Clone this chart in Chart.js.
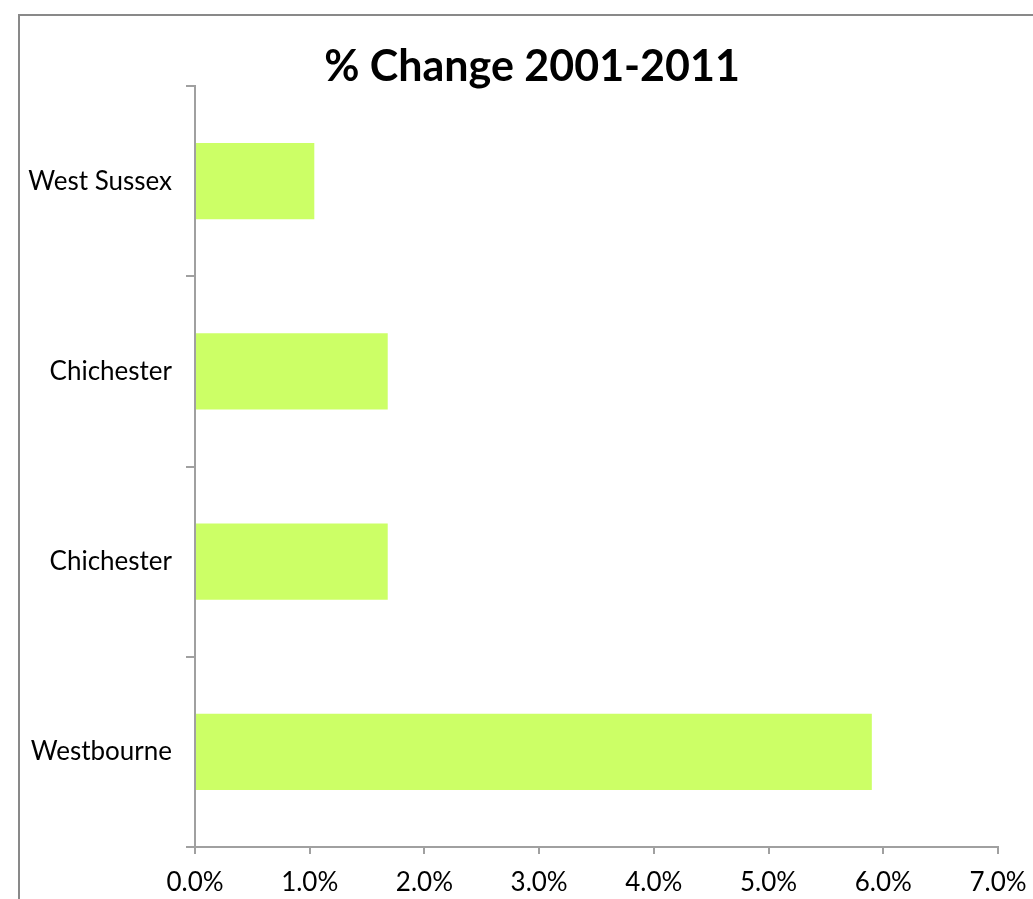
<!DOCTYPE html>
<html>
<head>
<meta charset="utf-8">
<script src="https://cdn.jsdelivr.net/npm/chart.js@4"></script>
<style>
  html, body { margin: 0; padding: 0; background: #fff; overflow: hidden; }
  #frame { position: absolute; left: 18px; top: 14px; width: 1100px; height: 1000px; border: 2px solid #898989; }
  #chart { position: absolute; left: 0; top: 0; }
</style>
</head>
<body>
<div id="frame"></div>
<canvas id="chart" width="1033" height="899"></canvas>
<script>
// Chart data
const chartTitle = "% Change 2001-2011";
const areas = ["West Sussex", "Chichester", "Chichester", "Westbourne"];
const percentChange = [0.0104, 0.0168, 0.0168, 0.0590];
const xTicks = [0, 0.01, 0.02, 0.03, 0.04, 0.05, 0.06, 0.07];

const axisGrey = "#a0a0a0";
const labelFont = { family: "Lato, 'Open Sans', sans-serif", size: 26 };

// draws the title text so it may sit over the top of the plot area
const titlePlugin = {
  id: "overTitle",
  afterDraw(chart) {
    const c = chart.ctx;
    c.save();
    c.font = "bold 43px Lato, 'Open Sans', sans-serif";
    c.fillStyle = "#000";
    c.textAlign = "center";
    c.textBaseline = "middle";
    c.fillText(chartTitle, 532, 67);
    c.restore();
  }
};

new Chart(document.getElementById("chart").getContext("2d"), {
  type: "bar",
  data: {
    labels: areas,
    datasets: [{
      data: percentChange,
      backgroundColor: "#ccff66",
      borderWidth: 0,
      barPercentage: 0.4,
      categoryPercentage: 1.0
    }]
  },
  options: {
    indexAxis: "y",
    responsive: false,
    animation: false,
    layout: { padding: { left: 0, top: 86, right: 35, bottom: 0 } },
    plugins: {
      legend: { display: false },
      tooltip: { enabled: false }
    },
    scales: {
      x: {
        min: 0,
        max: 0.07,
        afterBuildTicks(scale) {
          scale.ticks = xTicks.map(v => ({ value: v }));
        },
        afterFit(scale) {
          scale.height = 52;
          scale.paddingLeft = 0;
          scale.paddingRight = 0;
        },
        ticks: {
          color: "#000",
          font: labelFont,
          padding: 13,
          maxRotation: 0,
          callback: v => (v * 100).toFixed(1) + "%"
        },
        grid: { drawOnChartArea: false, drawTicks: true, tickLength: 7, color: axisGrey, lineWidth: 2 },
        border: { color: axisGrey, width: 2 }
      },
      y: {
        offset: true,
        afterFit(scale) { scale.width = 195; },
        ticks: { color: "#000", font: labelFont, padding: 14 },
        grid: { drawOnChartArea: false, drawTicks: true, tickLength: 9, offset: true, color: axisGrey, lineWidth: 2 },
        border: { color: axisGrey, width: 2 }
      }
    }
  },
  plugins: [titlePlugin]
});
</script>
</body>
</html>
